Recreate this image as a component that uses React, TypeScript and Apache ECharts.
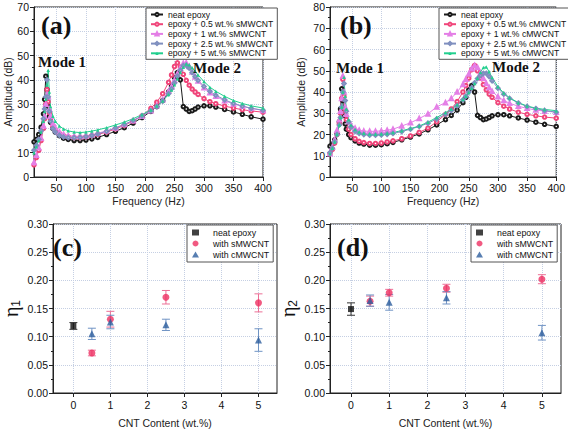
import React, { useEffect, useRef } from 'react';
import * as echarts from 'echarts';

// ---------- data: frequency response (Hz, dB) ----------
const freq = [12, 16, 20, 24, 28, 30, 32, 34, 36, 38, 40, 44, 48, 55, 62, 70, 80, 90, 100, 110, 120, 135, 150, 165, 180, 195, 210, 220, 230, 240, 245, 250, 255, 260, 265, 270, 275, 280, 285, 290, 300, 310, 320, 335, 350, 365, 380, 400];

const neatEpoxy = [14.5, 15.5, 17.5, 20.5, 26, 32, 41.5, 36, 29, 25, 22.5, 20, 18.5, 17, 16, 15.5, 15, 15, 15.2, 15.7, 16.3, 17.5, 18.8, 20.3, 22.2, 24.5, 27, 29, 31.5, 35, 37.5, 41, 43, 40, 29, 28, 27, 27.3, 28, 28.8, 29.3, 29.3, 28.8, 27.8, 26.8, 25.8, 24.8, 23.8];

const sMWCNT05 = [5, 8, 11, 15, 20, 24, 30, 36, 31, 26.5, 24, 21, 19.5, 18, 17, 16.5, 16.2, 16.2, 16.5, 17, 17.5, 18.5, 19.8, 21.3, 23, 25.2, 28.3, 30.8, 34.3, 39, 42, 45.5, 47, 45.3, 42.3, 39.8, 37.8, 36.2, 35, 34, 32.3, 31, 30.2, 29.2, 28.4, 27.7, 27.2, 26.7];
const sMWCNT1 = [6, 9, 12, 16, 21, 25, 30, 34, 33, 28, 25, 22, 20.3, 18.5, 17.6, 17, 16.8, 16.8, 17, 17.4, 18, 19, 20.2, 21.6, 23.2, 25, 27.3, 29.3, 31.8, 35.3, 37.3, 39.8, 42.5, 45, 46.8, 47, 45.5, 43.2, 41.2, 39.5, 36.7, 34.7, 33.2, 31.4, 30.1, 29.1, 28.3, 27.4];
const sMWCNT25 = [11, 13, 15.5, 19, 24, 28, 33, 40, 33, 27, 23, 20, 18.5, 17.2, 16.5, 16.2, 16.2, 16.3, 16.6, 17.1, 17.7, 18.8, 20.2, 21.7, 23.3, 25.2, 27.3, 29, 31.3, 34.3, 36.3, 38.7, 41.5, 44, 45.8, 46, 44.8, 43, 41.3, 39.8, 37.3, 35.3, 33.7, 31.8, 30.3, 29.2, 28.3, 27.5];
const sMWCNT5 = [10, 12.5, 15, 18.5, 23, 27, 32, 38, 44, 35, 29, 25, 23, 21, 19.8, 19, 18.5, 18.3, 18.5, 18.9, 19.4, 20.3, 21.4, 22.6, 24, 25.7, 27.6, 29.2, 31.3, 34, 35.8, 38, 40.5, 43, 45.2, 46.5, 46.2, 45, 43.5, 42, 39.3, 37, 35.3, 33.2, 31.5, 30.3, 29.3, 28.4];

const cMWCNT05 = [11, 13, 16, 20, 25, 30, 37, 46, 38, 31, 27, 22.5, 20, 18, 16.8, 16.2, 15.8, 15.8, 16, 16.5, 17, 18, 19.3, 21, 23, 26, 29.5, 32, 35.5, 40, 43, 46.5, 50.5, 52.5, 50, 46.5, 43.5, 41, 39, 37.5, 35, 33.3, 32, 30.5, 29.5, 28.8, 28.2, 27.7];
const cMWCNT1 = [11, 14, 17.5, 22, 27, 31, 37, 47.5, 40, 33, 29.5, 26, 24.5, 23, 22, 21.6, 21.5, 21.5, 21.7, 22, 22.5, 24, 25.5, 27.5, 29.7, 33, 35, 37, 40, 43.5, 46, 48.5, 51, 52.5, 51.5, 49, 46.5, 44, 42, 40.3, 37.8, 36, 34.7, 33.3, 32.3, 31.5, 31, 30.5];
const cMWCNT25 = [11.5, 13.5, 16.5, 20, 24.5, 28, 33, 40, 44, 36, 31, 26, 23.5, 21.5, 20.5, 20, 19.7, 19.7, 19.8, 20.1, 20.5, 21.4, 22.5, 23.8, 25.3, 27.3, 29.5, 31.3, 33.5, 36.3, 38, 40, 42, 44.3, 46.3, 47.8, 48.7, 48.8, 47.3, 45.3, 41.8, 39, 37, 34.8, 33.2, 32.2, 31.3, 30.5];
const cMWCNT5 = [11, 13.5, 16.5, 20, 24.5, 28, 33, 40, 47, 38, 32, 27, 24.5, 22.3, 21.2, 20.6, 20.2, 20.1, 20.2, 20.5, 21, 21.8, 22.8, 24, 25.8, 28, 30.3, 32, 34, 36.5, 38, 39.8, 41.8, 44, 46.5, 49.3, 51.5, 51.8, 49.5, 46.8, 42.5, 39.5, 37.3, 35, 33.4, 32.4, 31.8, 31.2];

const freqTicks = [50, 100, 150, 200, 250, 300, 350, 400];
const cntTicks = [0, 1, 2, 3, 4, 5];

// ---------- data: loss factors ----------
const neatX = [0];
const eta1Neat = [0.119];
const eta1NeatErr = [0.006];
const eta2Neat = [0.149];
const eta2NeatErr = [0.011];

const cntX = [0.5, 1, 2.5, 5];
const eta1S = [0.071, 0.131, 0.170, 0.160];
const eta1SErr = [0.005, 0.014, 0.012, 0.016];
const eta1C = [0.105, 0.126, 0.121, 0.094];
const eta1CErr = [0.010, 0.012, 0.010, 0.020];
const eta2S = [0.163, 0.178, 0.186, 0.202];
const eta2SErr = [0.009, 0.006, 0.007, 0.008];
const eta2C = [0.164, 0.161, 0.169, 0.107];
const eta2CErr = [0.010, 0.014, 0.011, 0.013];

// ---------- styling ----------
const SANS = '"Liberation Sans", Arial, sans-serif';
const SERIF = '"Liberation Serif", "Times New Roman", serif';
const C_BLACK = '#1a1a1a';
const C_RED = '#f0457a';
const C_MAG = '#e47ee6';
const C_BLUE = '#7f8fbf';
const C_GREEN = '#22cf8e';
const C_PT_RED = '#ee2f62';
const C_PT_BLUE = '#2d5e9e';
const C_ERR_RED = '#ec6f96';
const C_ERR_BLUE = '#6f93c4';

const pairs = (xs: number[], ys: number[]) => xs.map((x, i) => [x, ys[i]]);
const errs = (xs: number[], ys: number[], es: number[]) => xs.map((x, i) => [x, ys[i] - es[i], ys[i] + es[i]]);

const grids = [
  { left: 34, top: 7, width: 229, height: 170 },
  { left: 330, top: 7, width: 227, height: 170 },
  { left: 46, top: 224, width: 231, height: 169 },
  { left: 330, top: 224, width: 231, height: 169 },
];

const axisLineStyle = { show: true, onZero: false, lineStyle: { color: '#222', width: 1 } };
const splitLine = { show: true, lineStyle: { color: '#c5cfe3', type: 'dotted' as const, width: 1 } };
const labelStyle = { color: '#111', fontSize: 10.5, fontFamily: SANS };
const nameStyle = { color: '#222', fontSize: 10.5, fontFamily: SANS };
const minorTick = { show: true, splitNumber: 2, length: 2, lineStyle: { color: '#222' } };

function freqX(gi: number) {
  return {
    gridIndex: gi, type: 'value', min: 12, max: 400,
    axisLine: axisLineStyle,
    axisTick: { show: true, length: 4, customValues: freqTicks, lineStyle: { color: '#222' } },
    axisLabel: { ...labelStyle, margin: 5, customValues: freqTicks },
    splitLine,
    name: 'Frequency (Hz)', nameLocation: 'middle', nameGap: 18, nameTextStyle: nameStyle,
  };
}
function ampY(gi: number, max: number, gap: number) {
  return {
    gridIndex: gi, type: 'value', min: 0, max, interval: 10,
    axisLine: axisLineStyle,
    axisTick: { show: true, length: 4, lineStyle: { color: '#222' } },
    minorTick,
    axisLabel: { ...labelStyle, margin: 5 },
    splitLine,
    name: 'Amplitude (dB)', nameLocation: 'middle', nameGap: gap, nameTextStyle: nameStyle,
  };
}
function cntXAxis(gi: number) {
  return {
    gridIndex: gi, type: 'value', min: -0.55, max: 5.5,
    axisLine: axisLineStyle,
    axisTick: { show: true, length: 4, customValues: cntTicks, lineStyle: { color: '#222' } },
    axisLabel: { ...labelStyle, margin: 6, customValues: cntTicks },
    splitLine,
    name: 'CNT Content (wt.%)', nameLocation: 'middle', nameGap: 24, nameTextStyle: nameStyle,
  };
}
function etaY(gi: number, sub: string) {
  return {
    gridIndex: gi, type: 'value', min: 0, max: 0.3, interval: 0.05,
    axisLine: axisLineStyle,
    axisTick: { show: true, length: 4, lineStyle: { color: '#222' } },
    minorTick,
    axisLabel: { ...labelStyle, margin: 5, formatter: (v: number) => v.toFixed(2) },
    splitLine,
    name: `{e|η}{s|${sub}}`, nameLocation: 'middle', nameGap: 31,
    nameTextStyle: {
      color: '#111',
      rich: {
        e: { fontSize: 20, fontFamily: SERIF, color: '#111' },
        s: { fontSize: 12, fontFamily: SANS, color: '#111', padding: [10, 0, 0, 0] },
      },
    },
  };
}

function lineSeries(id: string, name: string, gi: number, ys: number[], color: string, symbol: string) {
  return {
    type: 'line', name: `${id}:${name}`, xAxisIndex: gi, yAxisIndex: gi,
    data: pairs(freq, ys), symbol, symbolSize: 3.5, showSymbol: true, showAllSymbol: true,
    lineStyle: { width: 1, color }, itemStyle: { color, borderWidth: 0.8 },
    emphasis: { disabled: true },
  };
}

function errSeries(gi: number, data: number[][], color: string) {
  return {
    type: 'custom', xAxisIndex: gi, yAxisIndex: gi, data,
    encode: { x: 0, y: [1, 2] },
    renderItem: (_p: any, api: any) => {
      const x = api.value(0);
      const a = api.coord([x, api.value(1)]);
      const b = api.coord([x, api.value(2)]);
      const w = 4;
      const st = { stroke: color, lineWidth: 1 };
      return {
        type: 'group',
        children: [
          { type: 'line', shape: { x1: a[0], y1: a[1], x2: b[0], y2: b[1] }, style: st },
          { type: 'line', shape: { x1: a[0] - w, y1: a[1], x2: a[0] + w, y2: a[1] }, style: st },
          { type: 'line', shape: { x1: b[0] - w, y1: b[1], x2: b[0] + w, y2: b[1] }, style: st },
        ],
      };
    },
    silent: true,
  };
}

function pointSeries(id: string, name: string, gi: number, data: number[][], color: string, symbol: string, size: number) {
  return {
    type: 'scatter', name: `${id}:${name}`, xAxisIndex: gi, yAxisIndex: gi, data,
    symbol, symbolSize: size, itemStyle: { color }, emphasis: { disabled: true }, z: 3,
  };
}

function legend(id: string, left: number, top: number, names: string[], iw: number, ih: number, gap: number, pad: number[], fs: number, lh: number, indent: number) {
  return {
    left, top, orient: 'vertical', selectedMode: false,
    data: names.map((n) => `${id}:${n}`),
    formatter: (n: string) => `{t|${n.slice(2)}}`,
    itemWidth: iw, itemHeight: ih, itemGap: gap, padding: pad,
    borderColor: '#555', borderWidth: 1, backgroundColor: '#fff',
    textStyle: {
      fontSize: fs, fontFamily: SANS, color: '#111', lineHeight: lh,
      rich: { t: { fontSize: fs, fontFamily: SANS, color: '#111', lineHeight: lh, padding: [0, 0, 0, indent] } },
    },
  };
}

const namesS = ['neat epoxy', 'epoxy + 0.5 wt.% sMWCNT', 'epoxy + 1 wt.% sMWCNT', 'epoxy + 2.5 wt.% sMWCNT', 'epoxy + 5 wt.% sMWCNT'];
const namesC = ['neat epoxy', 'epoxy + 0.5 wt.% cMWCNT', 'epoxy + 1 wt.% cMWCNT', 'epoxy + 2.5 wt.% cMWCNT', 'epoxy + 5 wt.% cMWCNT'];
const namesEta = ['neat epoxy', 'with sMWCNT', 'with cMWCNT'];

function txt(text: string, x: number, y: number, size: number) {
  return {
    type: 'text', x, y, z: 100,
    style: { text, font: `bold ${size}px ${SERIF}`, fill: '#111', verticalAlign: 'middle', align: 'left' },
  };
}

const option: any = {
  animation: false,
  backgroundColor: '#fff',
  grid: grids.map((g) => ({ ...g, show: true, borderColor: '#222', borderWidth: 1, backgroundColor: 'transparent' })),
  xAxis: [freqX(0), freqX(1), cntXAxis(2), cntXAxis(3)],
  yAxis: [ampY(0, 70, 21), ampY(1, 80, 24), etaY(2, '1'), etaY(3, '2')],
  legend: [
    legend('a', 146, 8, namesS, 12, 4, 0.7, [2, 4, 1.5, 4], 8.6, 8, 0),
    legend('b', 439, 8, namesC, 12, 4, 0.7, [2, 4, 1.5, 4], 8.6, 8, 0),
    legend('c', 187, 225, namesEta, 7, 6, 2, [3, 4, 3, 5], 8.8, 9, 9),
    legend('d', 471, 225, namesEta, 7, 6, 2, [3, 4, 3, 5], 8.8, 9, 9),
  ],
  series: [
    lineSeries('a', namesS[0], 0, neatEpoxy, C_BLACK, 'emptyCircle'),
    lineSeries('a', namesS[1], 0, sMWCNT05, C_RED, 'emptyCircle'),
    lineSeries('a', namesS[2], 0, sMWCNT1, C_MAG, 'emptyTriangle'),
    lineSeries('a', namesS[3], 0, sMWCNT25, C_BLUE, 'emptyDiamond'),
    lineSeries('a', namesS[4], 0, sMWCNT5, C_GREEN, 'triangle'),
    lineSeries('b', namesC[0], 1, neatEpoxy, C_BLACK, 'emptyCircle'),
    lineSeries('b', namesC[1], 1, cMWCNT05, C_RED, 'emptyCircle'),
    lineSeries('b', namesC[2], 1, cMWCNT1, C_MAG, 'emptyTriangle'),
    lineSeries('b', namesC[3], 1, cMWCNT25, C_BLUE, 'emptyDiamond'),
    lineSeries('b', namesC[4], 1, cMWCNT5, C_GREEN, 'triangle'),

    errSeries(2, errs(neatX, eta1Neat, eta1NeatErr), '#333'),
    errSeries(2, errs(cntX, eta1S, eta1SErr), C_ERR_RED),
    errSeries(2, errs(cntX, eta1C, eta1CErr), C_ERR_BLUE),
    pointSeries('c', namesEta[0], 2, pairs(neatX, eta1Neat), '#111', 'rect', 6),
    pointSeries('c', namesEta[1], 2, pairs(cntX, eta1S), C_PT_RED, 'circle', 7),
    pointSeries('c', namesEta[2], 2, pairs(cntX, eta1C), C_PT_BLUE, 'triangle', 7),

    errSeries(3, errs(neatX, eta2Neat, eta2NeatErr), '#333'),
    errSeries(3, errs(cntX, eta2S, eta2SErr), C_ERR_RED),
    errSeries(3, errs(cntX, eta2C, eta2CErr), C_ERR_BLUE),
    pointSeries('d', namesEta[0], 3, pairs(neatX, eta2Neat), '#111', 'rect', 6),
    pointSeries('d', namesEta[1], 3, pairs(cntX, eta2S), C_PT_RED, 'circle', 7),
    pointSeries('d', namesEta[2], 3, pairs(cntX, eta2C), C_PT_BLUE, 'triangle', 7),
  ],
  graphic: [
    txt('(a)', 41, 25, 26),
    txt('Mode 1', 38, 62, 15),
    txt('Mode 2', 193, 68, 15),
    txt('(b)', 340, 25, 26),
    txt('Mode 1', 336, 68, 15),
    txt('Mode 2', 492, 67, 15),
    txt('(c)', 53, 247, 26),
    txt('(d)', 337, 247, 26),
  ],
};

export default function App() {
  const ref = useRef<HTMLDivElement>(null);
  useEffect(() => {
    const chart = echarts.init(ref.current!, null, { renderer: 'svg' });
    chart.setOption(option);
    return () => chart.dispose();
  }, []);
  return (
    <div
      ref={ref}
      style={{ position: 'fixed', left: 0, top: 0, width: 568, height: 431, background: '#fff' }}
    />
  );
}
